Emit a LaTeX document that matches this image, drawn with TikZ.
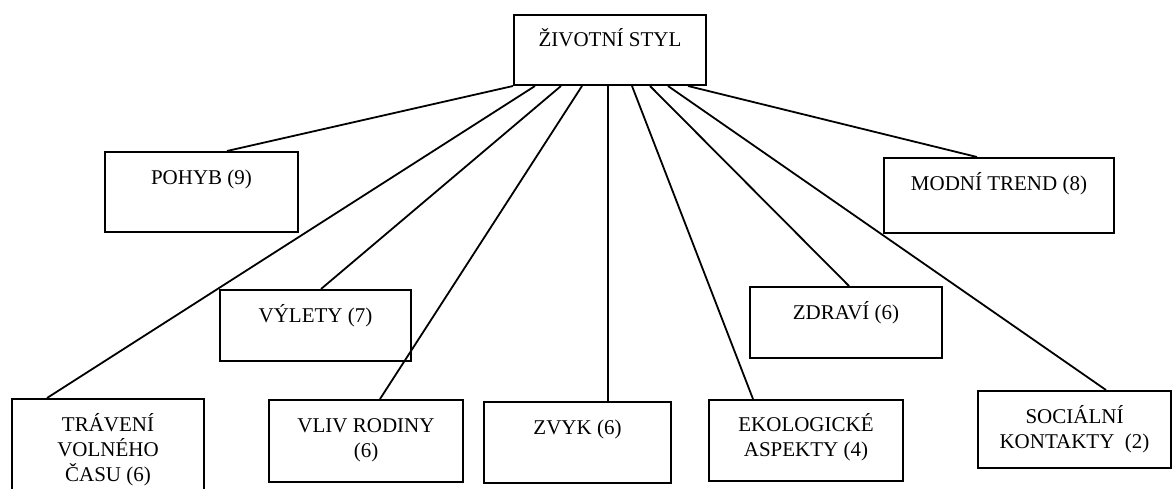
\documentclass[tikz,border=0pt]{standalone}
\usepackage{fontspec}
\setmainfont{Liberation Serif}
% Box content: text set from the top of a fixed-size frame
\newcommand\framedtext[4]{\begin{minipage}[t][#2pt][t]{#1pt}\centering\rule{0pt}{#3pt}#4\end{minipage}}
\begin{document}
\begin{tikzpicture}[x=1pt,y=-1pt,
  topic/.style={draw, line width=2pt, inner sep=0pt, anchor=north west,
    font=\fontsize{21}{25}\selectfont},
  link/.style={line width=1.8pt}]
\useasboundingbox (0,0) rectangle (1173,488);
\clip (0,0) rectangle (1173,488);

% central concept
\node[topic] (life) at (513,14) {\framedtext{192}{70}{31}{ŽIVOTNÍ STYL}};

% factors
\node[topic] (pohyb)  at (104,151) {\framedtext{193}{80}{32}{POHYB (9)}};
\node[topic] (modni)  at (883,157) {\framedtext{230}{75}{32}{MODNÍ TREND (8)}};
\node[topic] (vylety) at (219,289) {\framedtext{191}{71}{32}{VÝLETY (7)}};
\node[topic] (zdravi) at (749,286) {\framedtext{192}{71}{32}{ZDRAVÍ (6)}};
\node[topic] (cas)    at (11,398)  {\framedtext{192}{110}{32}{TRÁVENÍ\\VOLNÉHO\\ČASU (6)}};
\node[topic] (rodina) at (268,399) {\framedtext{194}{82}{32}{VLIV RODINY\\(6)}};
\node[topic] (zvyk)   at (483,401) {\framedtext{187}{81}{32}{ZVYK (6)}};
\node[topic] (eko)    at (708,399) {\framedtext{194}{81}{31}{EKOLOGICKÉ\\ASPEKTY (4)}};
\node[topic] (soc)    at (977,390) {\framedtext{193}{77}{32}{SOCIÁLNÍ\\KONTAKTY~~(2)}};

% connectors from the bottom edge of the central box
\draw[link] ([xshift=0pt]life.south west)   -- ([xshift=123pt]pohyb.north west);
\draw[link] ([xshift=22pt]life.south west)  -- ([xshift=36pt]cas.north west);
\draw[link] ([xshift=48pt]life.south west)  -- ([xshift=102pt]vylety.north west);
\draw[link] ([xshift=69pt]life.south west)  -- ([xshift=112pt]rodina.north west);
\draw[link] ([xshift=95pt]life.south west)  -- ([xshift=125pt]zvyk.north west);
\draw[link] ([xshift=119pt]life.south west) -- ([xshift=45pt]eko.north west);
\draw[link] ([xshift=137pt]life.south west) -- ([xshift=100pt]zdravi.north west);
\draw[link] ([xshift=155pt]life.south west) -- ([xshift=129pt]soc.north west);
\draw[link] ([xshift=175pt]life.south west) -- ([xshift=94pt]modni.north west);
\end{tikzpicture}
\end{document}
